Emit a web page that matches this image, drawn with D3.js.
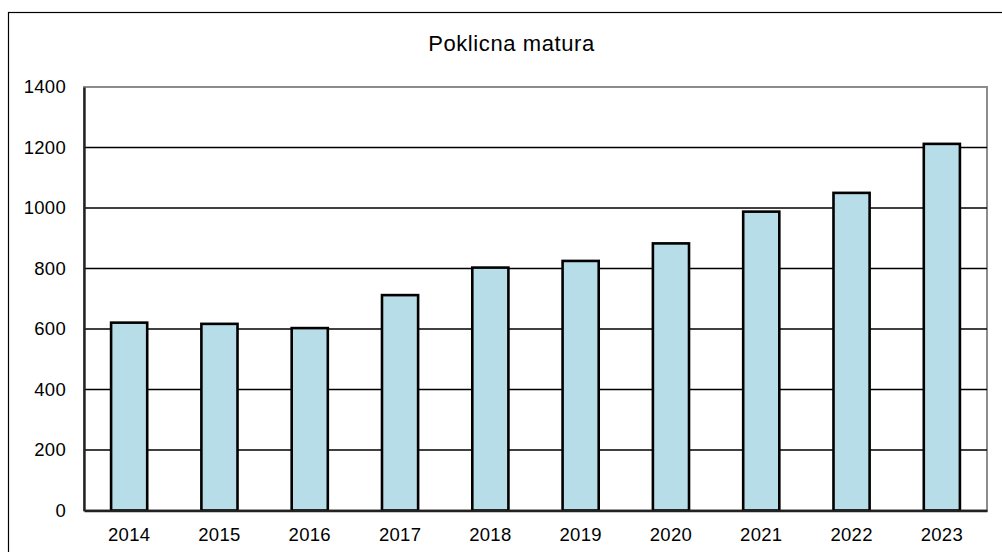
<!DOCTYPE html>
<html>
<head>
<meta charset="utf-8">
<script src="https://cdn.jsdelivr.net/npm/d3@7"></script>
<style>
  html, body { margin: 0; padding: 0; background: #fff; }
  svg { display: block; font-family: "Liberation Sans", Arial, sans-serif; }
</style>
</head>
<body>
<svg id="chart" width="1002" height="552"></svg>
<script>
const title = "Poklicna matura";
const years = ["2014","2015","2016","2017","2018","2019","2020","2021","2022","2023"];
const values = [621, 617, 603, 712, 803, 825, 883, 988, 1050, 1212];
const yTicks = [0, 200, 400, 600, 800, 1000, 1200, 1400];

const svg = d3.select("#chart");
const plot = { left: 84, right: 987, top: 87, bottom: 510.5 };

// outer chart frame (extends past the picture on right and bottom)
svg.append("rect")
  .attr("x", 8.5).attr("y", 12.5)
  .attr("width", 1006).attr("height", 560)
  .attr("fill", "#fff").attr("stroke", "#000").attr("stroke-width", 1.2);

svg.append("text")
  .attr("x", 511.5).attr("y", 51)
  .attr("text-anchor", "middle")
  .attr("font-size", "22px")
  .attr("letter-spacing", "0.6px")
  .attr("fill", "#000")
  .text(title);

const x = d3.scaleBand()
  .domain(years)
  .range([plot.left, plot.right])
  .paddingInner(0.6)
  .paddingOuter(0.3);

const y = d3.scaleLinear()
  .domain([0, 1400])
  .range([plot.bottom, plot.top]);

// plot area border (gray)
svg.append("rect")
  .attr("x", plot.left).attr("y", plot.top)
  .attr("width", plot.right - plot.left).attr("height", plot.bottom - plot.top)
  .attr("fill", "#fff").attr("stroke", "#8c8c8c").attr("stroke-width", 2);

// gridlines
svg.append("g")
  .selectAll("line")
  .data(yTicks.filter(d => d > 0 && d < 1400))
  .join("line")
  .attr("x1", plot.left).attr("x2", plot.right)
  .attr("y1", d => y(d)).attr("y2", d => y(d))
  .attr("stroke", "#000").attr("stroke-width", 1.3);

// bars
svg.append("g")
  .selectAll("rect")
  .data(years.map((yr, i) => ({ yr, v: values[i] })))
  .join("rect")
  .attr("x", d => x(d.yr))
  .attr("y", d => y(d.v))
  .attr("width", x.bandwidth())
  .attr("height", d => y(0) - y(d.v))
  .attr("fill", "#B7DDE8")
  .attr("stroke", "#000")
  .attr("stroke-width", 2.6);

// y axis
const yAxis = d3.axisLeft(y).tickValues(yTicks).tickFormat(d3.format("d")).tickSize(0).tickPadding(18);
const gy = svg.append("g").attr("transform", `translate(${plot.left},0)`).call(yAxis);
gy.select(".domain").attr("stroke", "#222").attr("stroke-width", 2.4);
gy.selectAll("text").attr("font-size", "18.5px").attr("fill", "#000")
  .attr("letter-spacing", "0.3px")
  .attr("font-family", "Liberation Sans, Arial, sans-serif");

// x axis
const xAxis = d3.axisBottom(x).tickSize(0).tickPadding(17);
const gx = svg.append("g").attr("transform", `translate(0,${plot.bottom})`).call(xAxis);
gx.select(".domain").attr("stroke", "#222").attr("stroke-width", 2.4);
gx.selectAll("text").attr("font-size", "18.5px").attr("fill", "#000")
  .attr("letter-spacing", "0.3px")
  .attr("font-family", "Liberation Sans, Arial, sans-serif");
</script>
</body>
</html>
